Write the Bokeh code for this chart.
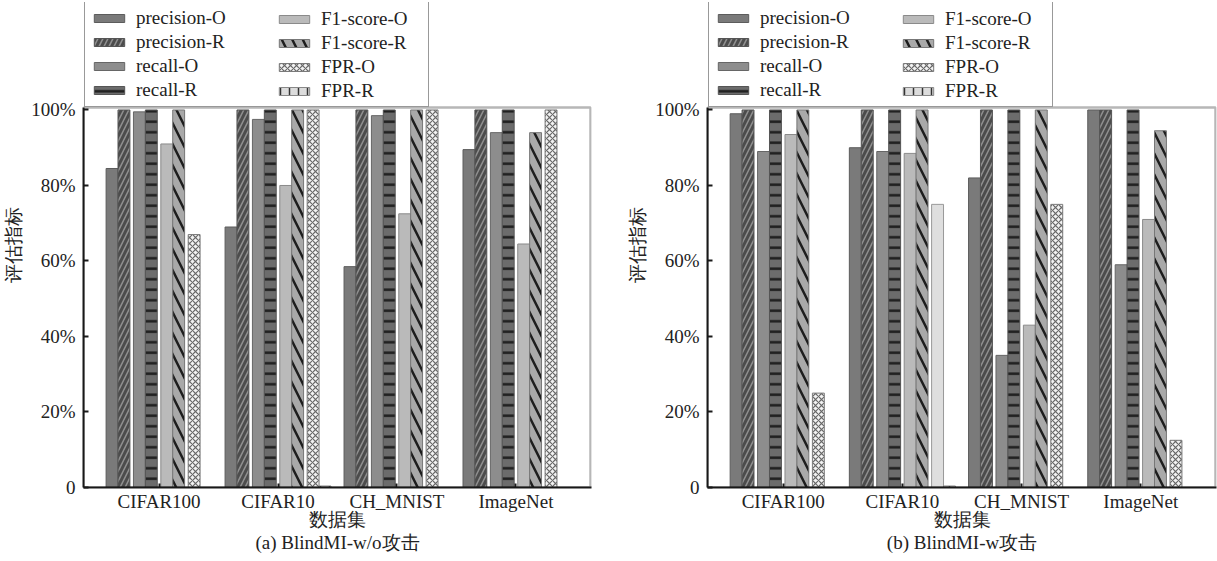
from bokeh.plotting import figure
from bokeh.layouts import row
from bokeh.models import (BoxAnnotation, ColumnDataSource, FixedTicker, Legend,
                          LegendItem, Range1d, Title)
from bokeh.embed import file_html
from bokeh.resources import INLINE

# ---------------------------------------------------------------- data
datasets = ["CIFAR100", "CIFAR10", "CH_MNIST", "ImageNet"]
series = ["precision-O", "precision-R", "recall-O", "recall-R",
          "F1-score-O", "F1-score-R", "FPR-O", "FPR-R"]
y_ticks = [0, 20, 40, 60, 80, 100]
y_tick_labels = ["0", "20%", "40%", "60%", "80%", "100%"]

# (a) BlindMI-w/o attack, values in %
a_precision_o = [84.5, 69.0, 58.5, 89.5]
a_precision_r = [100, 100, 100, 100]
a_recall_o = [99.5, 97.5, 98.5, 94.0]
a_recall_r = [100, 100, 100, 100]
a_f1_o = [91.0, 80.0, 72.5, 64.5]
a_f1_r = [100, 100, 100, 94.0]
a_fpr_o = [67.0, 100, 100, 100]
a_fpr_r = [0, 0.4, 0, 0]

# (b) BlindMI-w attack, values in %
b_precision_o = [99.0, 90.0, 82.0, 100]
b_precision_r = [100, 100, 100, 100]
b_recall_o = [89.0, 89.0, 35.0, 59.0]
b_recall_r = [100, 100, 100, 100]
b_f1_o = [93.5, 88.5, 43.0, 71.0]
b_f1_r = [100, 100, 100, 94.5]
b_fpr_o = [25.0, 75.0, 75.0, 12.5]
b_fpr_r = [0, 0.4, 0, 0]

panel_a = [a_precision_o, a_precision_r, a_recall_o, a_recall_r,
           a_f1_o, a_f1_r, a_fpr_o, a_fpr_r]
panel_b = [b_precision_o, b_precision_r, b_recall_o, b_recall_r,
           b_f1_o, b_f1_r, b_fpr_o, b_fpr_r]

# ---------------------------------------------------------------- styles
SERIF = "Liberation Serif"
STYLES = [
    dict(fill="#7a7a7a", line="#5c5c5c", hatch=" ", hcol="#000", hscale=10, hw=1),
    dict(fill="#4c4c4c", line="#555555", hatch="/", hcol="#909090", hscale=10, hw=1.5),
    dict(fill="#8d8d8d", line="#666666", hatch=" ", hcol="#000", hscale=10, hw=1),
    dict(fill="#6c6c6c", line="#555555", hatch="-", hcol="#1e1e1e", hscale=10.5, hw=2.5),
    dict(fill="#bababa", line="#8a8a8a", hatch=" ", hcol="#000", hscale=10, hw=1),
    dict(fill="#a9a9a9", line="#777777", hatch="\\", hcol="#1e1e1e", hscale=21, hw=2.5),
    dict(fill="#f2f2f2", line="#7a7a7a", hatch="x", hcol="#666666", hscale=6, hw=1.2),
    dict(fill="#dcdcdc", line="#888888", hatch="|", hcol="#333333", hscale=9, hw=1.5),
]

BAR_W = 0.1       # width of one bar in category units
PAIR_STEP = 0.23  # distance between neighbouring O/R pairs
X_START, X_END = -0.635, 3.635
Y_TOP = 100.66    # top of the boxed plotting area
Y_MAX = 128.47    # extra headroom above the box holds the legend
PX = 1 / 119.7    # one pixel in category units


def make_panel(values, caption, y_title, left, right, width, plain_fpr_o=()):
    p = figure(width=width, height=561,
               output_backend="svg", toolbar_location=None,
               min_border_left=left, min_border_right=right,
               min_border_top=2, min_border_bottom=74,
               x_range=Range1d(X_START, X_END), y_range=Range1d(0, Y_MAX),
               background_fill_color="white", border_fill_color="white")
    p.grid.visible = False
    p.outline_line_color = None
    p.add_layout(BoxAnnotation(bottom=0, top=Y_TOP, left=X_START,
                               right=X_END - PX, fill_color=None,
                               line_color="#111111", line_width=2.5))

    renderers = []
    for k, (name, vals, st) in enumerate(zip(series, values, STYLES)):
        pair, side = divmod(k, 2)
        off = (pair - 1.5) * PAIR_STEP + (side - 0.5) * BAR_W
        fills = [st["fill"]] * len(vals)
        hatches = [st["hatch"]] * len(vals)
        lines = [st["line"]] * len(vals)
        if name == "FPR-O":
            for i in plain_fpr_o:
                fills[i] = "#dedede"
                hatches[i] = " "
                lines[i] = "#999999"
        src = ColumnDataSource(dict(x=[i + off for i in range(len(vals))],
                                    top=vals, fill=fills, hatch=hatches,
                                    line=lines))
        r = p.vbar(x="x", top="top", bottom=0, width=BAR_W, source=src,
                   fill_color="fill", line_color="line", line_width=1,
                   hatch_pattern="hatch", hatch_color=st["hcol"],
                   hatch_scale=st["hscale"], hatch_weight=st["hw"])
        renderers.append(r)

    # axes
    yax = p.yaxis[0]
    yax.ticker = FixedTicker(ticks=y_ticks)
    yax.major_label_overrides = dict(zip(y_ticks, y_tick_labels))
    yax.axis_label = y_title
    yax.bounds = (0, Y_TOP)
    xax = p.xaxis[0]
    xax.ticker = FixedTicker(ticks=list(range(len(datasets))))
    xax.major_label_overrides = dict(enumerate(datasets))
    xax.axis_label = "数据集"
    for ax in (xax, yax):
        ax.axis_line_width = 2
        ax.axis_line_color = "#1a1a1a"
        ax.major_tick_line_width = 2
        ax.major_tick_line_color = "#1a1a1a"
        ax.major_tick_out = 0
        ax.minor_tick_line_color = None
        ax.major_label_text_font = SERIF
        ax.major_label_text_font_size = "19px"
        ax.major_label_text_color = "#222222"
        ax.axis_label_text_font = SERIF
        ax.axis_label_text_font_size = "19px"
        ax.axis_label_text_font_style = "normal"
        ax.axis_label_text_color = "#222222"
    yax.major_tick_in = 5
    yax.major_label_standoff = 8
    yax.axis_label_standoff = 4
    xax.major_tick_in = 4
    xax.major_label_standoff = 3
    xax.axis_label_standoff = -6

    # legend: boxed first column, second column laid over the same box
    common = dict(glyph_width=38, glyph_height=10, label_height=20,
                  spacing=2, padding=5, margin=0, label_standoff=8,
                  label_text_font=SERIF, label_text_font_size="19px",
                  label_text_color="#222222", orientation="vertical")
    items = [LegendItem(label=n, renderers=[r], index=0)
             for n, r in zip(series, renderers)]
    lg1 = Legend(items=items[:4], location=(1, 380), label_width=287,
                 border_line_color="#333333", border_line_width=1.5,
                 background_fill_color="white", **common)
    lg2 = Legend(items=items[4:], location=(187, 380), label_width=60,
                 border_line_alpha=0, background_fill_alpha=0, **common)
    p.add_layout(lg1)
    p.add_layout(lg2)

    p.add_layout(Title(text=caption, align="center", text_font=SERIF,
                       text_font_size="19px", text_font_style="normal",
                       text_color="#222222", standoff=-6), "below")
    return p


pa = make_panel(panel_a, "(a) BlindMI-w/o攻击", "评估指标", 81, 29, 620)
pb = make_panel(panel_b, "(b) BlindMI-w攻击", "评估指标", 87, 1, 597,
                plain_fpr_o=(1,))

layout = row(pa, pb)
open("out.html", "w").write(file_html(layout, INLINE))
